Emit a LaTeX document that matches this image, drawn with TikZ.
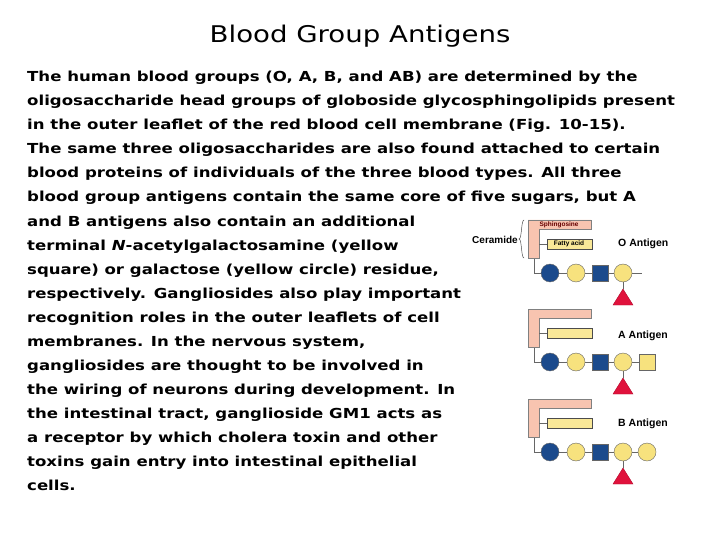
\documentclass[tikz,border=0pt]{standalone}
\usepackage{fontspec}
\usepackage{graphicx}
\setmainfont{DejaVu Sans}
\newfontfamily\lab{Liberation Sans}
\definecolor{navy}{HTML}{1B4A8C}
\definecolor{sug}{HTML}{F7E27E}
\definecolor{crim}{HTML}{E0123C}
\definecolor{salm}{HTML}{F8C4B0}
\begin{document}
\begin{tikzpicture}[x=1pt,y=-1pt,
 tl/.style={anchor=base west,inner sep=0,font=\fontsize{13.8}{16}\bfseries},
 cer/.style={fill=salm,draw=black!50,line width=0.5pt},
 fa/.style={fill=sug!80,draw=black!70,line width=0.5pt},
 blu/.style={circle,minimum size=18pt,inner sep=0,fill=navy,draw=black!60},
 ycir/.style={circle,minimum size=18pt,inner sep=0,fill=sug,draw=black!60},
 bsq/.style={rectangle,minimum size=16pt,inner sep=0,fill=navy,draw=black!60},
 ysq/.style={rectangle,minimum size=16pt,inner sep=0,fill=sug,draw=black!60},
 tri/.style={fill=crim,draw=crim!80!black},
 link/.style={draw=black!60,line width=0.6pt},
 ant/.style={anchor=west,inner sep=0,font=\lab\fontsize{10.5}{12}\bfseries}]
\useasboundingbox (0,0) rectangle (720,540);
\node[inner sep=0,font=\fontsize{23}{26}\selectfont] (title) at (360,36) {\scalebox{1.2}[1]{Blood Group Antigens}};
\foreach \t [count=\i] in {
{The human blood groups (O, A, B, and AB) are determined by the},
{oligosaccharide head groups of globoside glycosphingolipids present},
{in the outer leaflet of the red blood cell membrane (Fig. 10-15).},
{The same three oligosaccharides are also found attached to certain},
{blood proteins of individuals of the three blood types. All three},
{blood group antigens contain the same core of five sugars, but A},
{and B antigens also contain an additional},
{terminal \textit{N}-acetylgalactosamine (yellow},
{square) or galactose (yellow circle) residue,},
{respectively. Gangliosides also play important},
{recognition roles in the outer leaflets of cell},
{membranes. In the nervous system,},
{gangliosides are thought to be involved in},
{the wiring of neurons during development. In},
{the intestinal tract, ganglioside GM1 acts as},
{a receptor by which cholera toxin and other},
{toxins gain entry into intestinal epithelial},
{cells.}}
 \node[tl] (l\i) at (27,{82+(\i-1)*24}) {\scalebox{1.2}[1]{\t}};
\foreach \dy/\nm/\lb/\ly in {0/o/O Antigen/244,89/a/A Antigen/247,179/b/B Antigen/245}{
 \begin{scope}[yshift=-\dy pt]
  \draw[link] (534,250) -- (534,273) -- (642,273);
  \draw[cer] (528,220) -- (591,220) -- (591,229) -- (539,229) -- (539,258) -- (528,258) -- cycle;
  \draw[link] (539,244) -- (547,244);
  \draw[fa] (547,239) rectangle (592,249);
  \node[blu] (\nm1) at (550,273) {};
  \node[ycir] (\nm2) at (576,273) {};
  \node[bsq] (\nm3) at (600,273) {};
  \node[ycir] (\nm4) at (623,273) {};
  \coordinate (\nm t) at (623,289);
  \draw[link] (\nm4) -- (\nm t);
  \draw[tri] (\nm t) -- (633,305) -- (613,305) -- cycle;
  \node[ant] (\nm lab) at (618,\ly) {\lb};
 \end{scope}}
\node[ysq] (a5) at (647,362) {};
\node[ycir] (b5) at (647,452) {};
\node[inner sep=1pt,font=\lab\fontsize{6.5}{7}\bfseries,text=red!40!black] (sph) at (559,225) {Sphingosine};
\node[inner sep=0,font=\lab\fontsize{6.5}{7}\bfseries] (fat) at (569,244) {Fatty acid};
\node[anchor=east,inner sep=0,font=\lab\fontsize{10}{12}\bfseries] (cerl) at (518,240) {Ceramide};
\draw[black!70,line width=0.5pt] (524,220) .. controls (521,220) and (522,239) .. (519,239) .. controls (522,239) and (521,258) .. (524,258);
\end{tikzpicture}
\end{document}
